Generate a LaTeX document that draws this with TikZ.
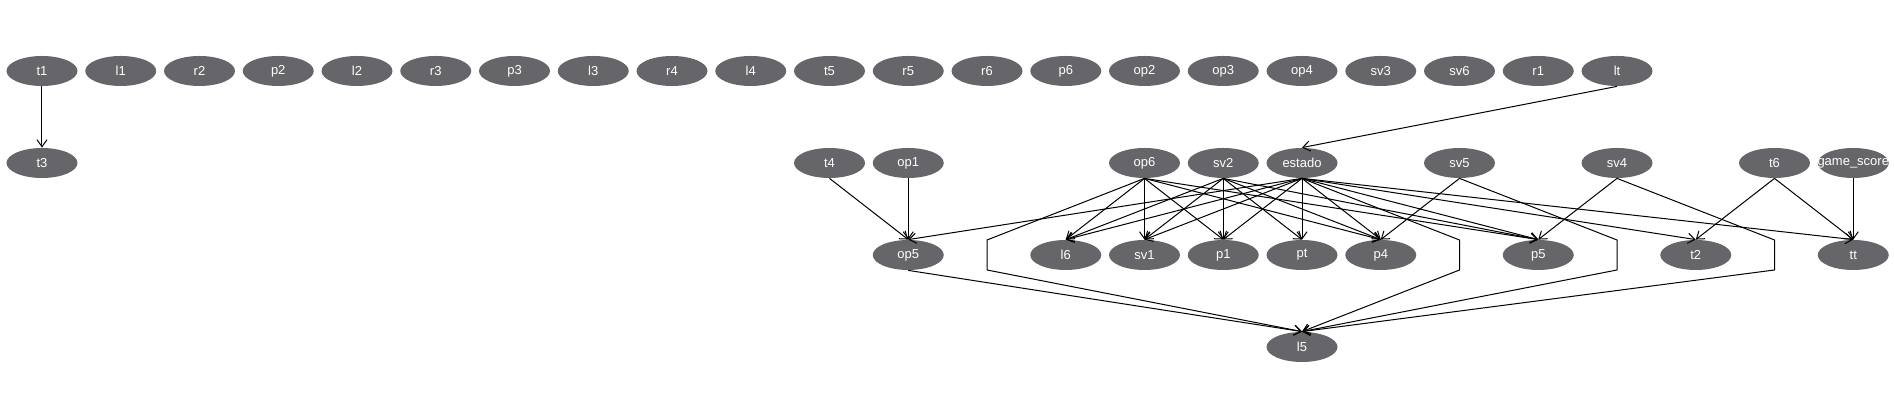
\documentclass[tikz,border=0pt]{standalone}
\usepackage{fontspec}
\setmainfont{Liberation Sans}
\usetikzlibrary{shapes.geometric,arrows.meta}
\definecolor{nodegray}{RGB}{102,102,106}

\begin{document}
\begin{tikzpicture}[x=39.375pt,y=-46pt,
vx/.style={ellipse, fill=nodegray, minimum width=35.5pt, minimum height=15pt, inner sep=0pt, text=white, font=\fontsize{6.5}{7.5}\selectfont},
ed/.style={draw=black, line width=0.5pt, -{Straight Barb[length=3.5pt,width=5pt]}},
]
\useasboundingbox (-0.5333,-0.7717) rectangle (23.5175,3.6739);
% top row
\node[vx] (t1) at (0,0) {t1};
\node[vx] (l1) at (1,0) {l1};
\node[vx] (r2) at (2,0) {r2};
\node[vx] (p2) at (3,0) {p2};
\node[vx] (l2) at (4,0) {l2};
\node[vx] (r3) at (5,0) {r3};
\node[vx] (p3) at (6,0) {p3};
\node[vx] (l3) at (7,0) {l3};
\node[vx] (r4) at (8,0) {r4};
\node[vx] (l4) at (9,0) {l4};
\node[vx] (t5) at (10,0) {t5};
\node[vx] (r5) at (11,0) {r5};
\node[vx] (r6) at (12,0) {r6};
\node[vx] (p6) at (13,0) {p6};
\node[vx] (op2) at (14,0) {op2};
\node[vx] (op3) at (15,0) {op3};
\node[vx] (op4) at (16,0) {op4};
\node[vx] (sv3) at (17,0) {sv3};
\node[vx] (sv6) at (18,0) {sv6};
\node[vx] (r1) at (19,0) {r1};
\node[vx] (lt) at (20,0) {lt};
% second row
\node[vx] (t3) at (0,1) {t3};
\node[vx] (t4) at (10,1) {t4};
\node[vx] (op1) at (11,1) {op1};
\node[vx] (op6) at (14,1) {op6};
\node[vx] (sv2) at (15,1) {sv2};
\node[vx] (estado) at (16,1) {estado};
\node[vx] (sv5) at (18,1) {sv5};
\node[vx] (sv4) at (20,1) {sv4};
\node[vx] (t6) at (22,1) {t6};
\node[vx] (gs) at (23,1) {\makebox[0pt]{game\_score}};
% third row
\node[vx] (op5) at (11,2) {op5};
\node[vx] (l6) at (13,2) {l6};
\node[vx] (sv1) at (14,2) {sv1};
\node[vx] (p1) at (15,2) {p1};
\node[vx] (pt) at (16,2) {pt};
\node[vx] (p4) at (17,2) {p4};
\node[vx] (p5) at (19,2) {p5};
\node[vx] (t2) at (21,2) {t2};
\node[vx] (tt) at (23,2) {tt};
% bottom
\node[vx] (l5) at (16,3) {l5};
% bend points
\coordinate (ba1) at (12,1.8370); \coordinate (ba2) at (12,2.1630);
\coordinate (bb1) at (18,1.8370); \coordinate (bb2) at (18,2.1630);
\coordinate (bc1) at (20,1.8370); \coordinate (bc2) at (20,2.1630);
\coordinate (bd1) at (22,1.8370); \coordinate (bd2) at (22,2.1630);
% edges
\draw[ed] (t1.south) -- (t3.north);
\draw[ed] (lt.south) -- (estado.north);
\draw[ed] (t4.south) -- (op5.north);
\draw[ed] (op1.south) -- (op5.north);
\draw[ed] (op6.south) -- (l6.north);
\draw[ed] (op6.south) -- (sv1.north);
\draw[ed] (op6.south) -- (p1.north);
\draw[ed] (op6.south) -- (p4.north);
\draw[ed] (op6.south) -- (p5.north);
\draw[ed] (sv2.south) -- (l6.north);
\draw[ed] (sv2.south) -- (sv1.north);
\draw[ed] (sv2.south) -- (p1.north);
\draw[ed] (sv2.south) -- (pt.north);
\draw[ed] (sv2.south) -- (p4.north);
\draw[ed] (sv2.south) -- (p5.north);
\draw[ed] (estado.south) -- (op5.north);
\draw[ed] (estado.south) -- (l6.north);
\draw[ed] (estado.south) -- (sv1.north);
\draw[ed] (estado.south) -- (p1.north);
\draw[ed] (estado.south) -- (pt.north);
\draw[ed] (estado.south) -- (p4.north);
\draw[ed] (estado.south) -- (p5.north);
\draw[ed] (estado.south) -- (t2.north);
\draw[ed] (estado.south) -- (tt.north);
\draw[ed] (sv5.south) -- (p4.north);
\draw[ed] (sv4.south) -- (p5.north);
\draw[ed] (t6.south) -- (t2.north);
\draw[ed] (t6.south) -- (tt.north);
\draw[ed] (gs.south) -- (tt.north);
% edges into l5
\draw[ed] (op5.south) -- (l5.north);
\draw[ed] (op6.south) -- (ba1) -- (ba2) -- (l5.north);
\draw[ed] (estado.south) -- (bb1) -- (bb2) -- (l5.north);
\draw[ed] (sv5.south) -- (bc1) -- (bc2) -- (l5.north);
\draw[ed] (sv4.south) -- (bd1) -- (bd2) -- (l5.north);
\end{tikzpicture}
\end{document}
